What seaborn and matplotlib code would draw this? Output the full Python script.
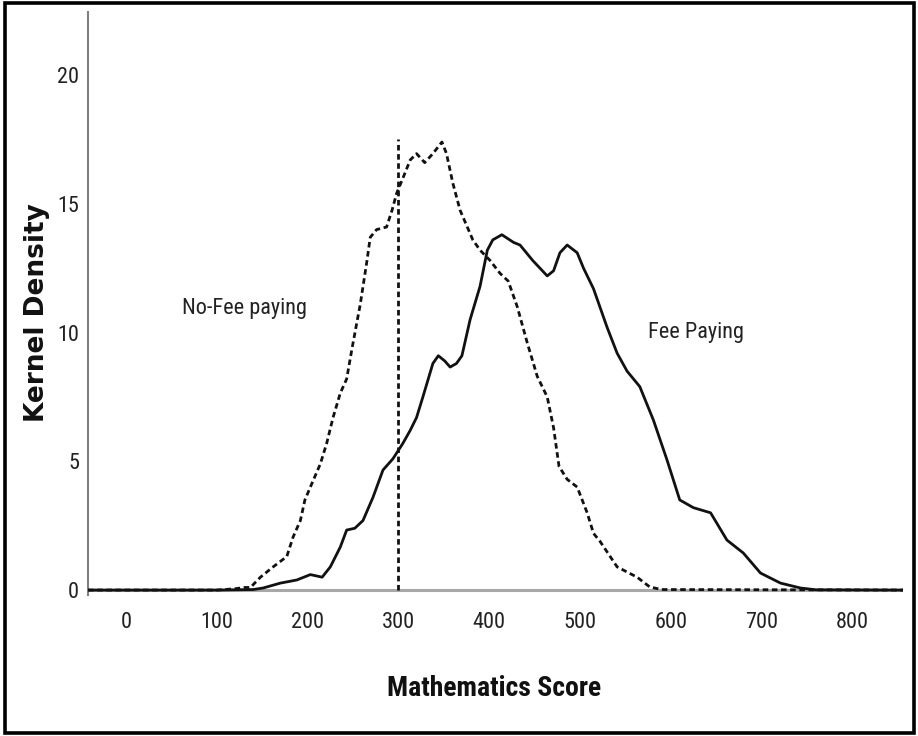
import matplotlib
matplotlib.use("Agg")
import matplotlib.pyplot as plt
import matplotlib.patches as mpatches
import numpy as np
import pandas as pd
import seaborn as sns

# Kernel density estimates of mathematics scores by school type
fee_score = [-42, 100, 140, 151, 170, 188, 203, 216, 225, 236, 243, 252, 261, 272,
             283, 294, 305, 313, 320, 327, 338, 344, 351, 357, 364, 370, 379, 390,
             398, 404, 414, 427, 434, 448, 464, 471, 478, 486, 497, 504, 515, 530,
             541, 552, 566, 581, 596, 610, 625, 644, 662, 680, 699, 721, 743, 760, 856]
fee_density = [0, 0, 0.02, 0.08, 0.27, 0.39, 0.6, 0.5, 0.9, 1.67, 2.33, 2.4, 2.7, 3.6,
               4.66, 5.1, 5.7, 6.2, 6.7, 7.5, 8.8, 9.1, 8.9, 8.66, 8.8, 9.1, 10.5, 11.8,
               13.2, 13.6, 13.8, 13.5, 13.4, 12.8, 12.2, 12.4, 13.1, 13.4, 13.1, 12.5, 11.7, 10.2,
               9.2, 8.5, 7.9, 6.6, 5.05, 3.5, 3.2, 3.0, 1.94, 1.44, 0.66, 0.27, 0.08, 0.01, 0]

nofee_score = [-42, 100, 120, 130, 137, 148, 162, 177, 184, 192, 197, 203, 214, 221,
               228, 236, 243, 249, 258, 265, 269, 276, 287, 293, 298, 305, 313, 320,
               329, 338, 348, 353, 360, 368, 382, 390, 401, 412, 421, 431, 442, 453,
               464, 471, 477, 486, 497, 508, 515, 522, 541, 563, 577, 590, 856]
nofee_density = [0, 0, 0.05, 0.1, 0.1, 0.5, 0.9, 1.3, 2.06, 2.7, 3.5, 4.0, 4.9, 5.7,
                 6.7, 7.65, 8.2, 9.4, 11.1, 12.7, 13.7, 14.0, 14.1, 14.75, 15.4, 16.0, 16.7, 16.95,
                 16.6, 16.95, 17.4, 16.95, 15.8, 14.75, 13.6, 13.2, 12.8, 12.3, 12.0, 11.0, 9.6, 8.3,
                 7.5, 6.3, 4.8, 4.3, 4.0, 3.0, 2.2, 1.9, 0.9, 0.5, 0.12, 0.02, 0]

x_ticks = [0, 100, 200, 300, 400, 500, 600, 700, 800]
y_ticks = [0, 5, 10, 15, 20]

cutoff_score = 300
cutoff_top = 17.5

df = pd.concat([
    pd.DataFrame({"score": fee_score, "density": fee_density, "group": "Fee Paying"}),
    pd.DataFrame({"score": nofee_score, "density": nofee_density, "group": "No-Fee paying"}),
], ignore_index=True)

sns.set_theme(style="white")
narrow = ["Roboto Condensed", "Liberation Sans", "DejaVu Sans"]
plt.rcParams["font.family"] = narrow

fig = plt.figure(figsize=(9.18, 7.36), dpi=100)
W, H = 918, 736
ax_left, ax_right, ax_top, ax_bottom = 88, 903, 12, 595.2
ax = fig.add_axes([ax_left / W, (H - ax_bottom) / H,
                   (ax_right - ax_left) / W, (ax_bottom - ax_top) / H])

ax.axhline(0, color="#a8a8a8", lw=2.2, zorder=1)

sns.lineplot(data=df, x="score", y="density", style="group",
             dashes={"Fee Paying": "", "No-Fee paying": (2.0, 1.3)},
             color="#111111", linewidth=2.0, estimator=None, sort=True,
             legend=False, ax=ax, zorder=3)

ax.vlines(cutoff_score, 0, cutoff_top, colors="#111111", linestyles=(0, (2.0, 1.3)),
          linewidth=2.0, zorder=2)

ax.set_xlim(-42, 856)
ax.set_ylim(-0.2, 22.45)
ax.set_xticks(x_ticks)
ax.set_yticks(y_ticks)
ax.tick_params(axis="both", length=0, labelsize=16, labelcolor="#222222")
ax.tick_params(axis="x", pad=12)
ax.tick_params(axis="y", pad=6.5)

for side in ["top", "right", "bottom"]:
    ax.spines[side].set_visible(False)
ax.spines["left"].set_color("#808080")
ax.spines["left"].set_linewidth(1.5)

ax.set_xlabel("Mathematics Score", fontsize=20, fontweight="bold",
              family=narrow, color="#111111")
ax.xaxis.set_label_coords((494 - ax_left) / (ax_right - ax_left),
                          (ax_bottom - 688) / (ax_bottom - ax_top))
ax.xaxis.label.set_va("center")

ax.set_ylabel("Kernel Density", fontsize=19, fontweight="bold",
              family=["DejaVu Sans"], color="#111111")
ax.yaxis.set_label_coords((37 - ax_left) / (ax_right - ax_left),
                          (ax_bottom - 313) / (ax_bottom - ax_top))
ax.yaxis.label.set_va("center")

ax.text(62, 10.95, "No-Fee paying", fontsize=16, color="#222222", va="center", ha="left")
ax.text(575, 10.0, "Fee Paying", fontsize=16, color="#222222", va="center", ha="left")

# black frame around the whole figure
frame = mpatches.Rectangle((5 / W, (H - 732.5) / H), (914 - 5) / W, (732.5 - 3.3) / H,
                           transform=fig.transFigure, fill=False,
                           edgecolor="#000000", linewidth=2.6)
fig.patches.append(frame)

fig.savefig("out.png", dpi=100)
